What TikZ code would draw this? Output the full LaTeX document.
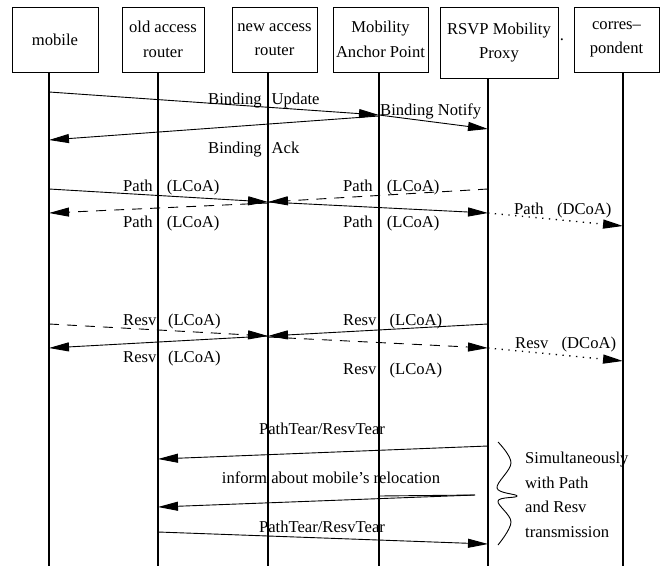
\documentclass[tikz,border=0pt]{standalone}
\usepackage{fontspec}
\setmainfont{Liberation Serif}
\usetikzlibrary{arrows.meta}
\begin{document}
\begin{tikzpicture}[x=1pt,y=-1pt,
  every node/.style={font=\fontsize{16.6}{24.5}\selectfont},
  box/.style={draw, line width=1pt, inner sep=0pt, align=center, minimum height=65pt},
  life/.style={line width=1.1pt},
  msg/.style={line width=0.9pt, -{Triangle[length=20pt,width=9pt]}},
  dsh/.style={dash pattern=on 10pt off 8pt},
  dtt/.style={line width=1.3pt, dash pattern=on 1.3pt off 5.5pt},
  lbl/.style={inner sep=0pt, text height=11pt, text depth=0pt, anchor=west}]
\useasboundingbox (0,0) rectangle (666,570);

% boxes
\node[box, minimum width=86pt] (mob) at (55,39.5) {mobile};
\node[box, minimum width=82pt] (old) at (163,39.5) {old access\\router};
\node[box, minimum width=85pt] (new) at (274.5,39.5) {new access\\router};
\node[box, minimum width=95pt] (map) at (380.5,39.5) {Mobility\\Anchor Point};
\node[box, minimum width=118pt, minimum height=71pt] (rsvp) at (499,42.5) {RSVP Mobility\\Proxy};
\node[box, minimum width=85pt] (cor) at (616.5,39.5) {corres--\\pondent};
\node[inner sep=0pt] (dot) at (562,40) {.};

% lifelines
\coordinate (t1) at (49,72);  \coordinate (b1) at (49,566);
\coordinate (t2) at (158,72); \coordinate (b2) at (158,566);
\coordinate (t3) at (268,72); \coordinate (b3) at (268,566);
\coordinate (t4) at (379,72); \coordinate (b4) at (379,566);
\coordinate (t5) at (488,78); \coordinate (b5) at (488,566);
\coordinate (t6) at (623,72); \coordinate (b6) at (623,566);
\foreach \i in {1,...,6} {\draw[life] (t\i) -- (b\i);}

% binding
\coordinate (bu0) at (49,92);
\coordinate (bu1) at (379,115);
\coordinate (bn1) at (488,129);
\coordinate (ba0) at (379,116);
\coordinate (ba1) at (49,140);
\draw[msg] (bu0) -- (bu1);
\draw[msg] (bu1) -- (bn1);
\draw[msg] (ba0) -- (ba1);
\node[lbl] (lbu) at (208,99) {Binding\hspace{0.6em}Update};
\node[lbl] (lbn) at (380,110) {Binding Notify};
\node[lbl] (lba) at (208,148) {Binding\hspace{0.6em}Ack};

% path
\coordinate (p1a) at (49,189);  \coordinate (p1b) at (268,202);
\coordinate (p2a) at (488,189);
\coordinate (p3a) at (268,203); \coordinate (p3b) at (49,213);
\coordinate (p4b) at (488,213);
\coordinate (p5b) at (623,226);
\draw[msg] (p1a) -- (p1b);
\draw[msg, dsh] (p2a) -- (p1b);
\draw[msg, dsh] (p3a) -- (p3b);
\draw[msg] (p1b) -- (p4b);
\draw[msg, dtt] (p4b) -- (p5b);
\node[lbl] (lp1) at (123,186) {Path\hspace{0.85em}(LCoA)};
\node[lbl] (lp2) at (343,186) {Path\hspace{0.85em}(LCoA)};
\node[lbl] (lp3) at (123,222) {Path\hspace{0.85em}(LCoA)};
\node[lbl] (lp4) at (343,222) {Path\hspace{0.85em}(LCoA)};
\node[lbl] (lp5) at (514,209) {Path\hspace{0.8em}(DCoA)};

% resv
\coordinate (r1a) at (49,324);  \coordinate (r1b) at (268,336);
\coordinate (r2a) at (488,324);
\coordinate (r3b) at (49,348);
\coordinate (r4a) at (268,337); \coordinate (r4b) at (488,348);
\coordinate (r5b) at (623,361);
\draw[msg, dsh] (r1a) -- (r1b);
\draw[msg] (r2a) -- (r1b);
\draw[msg] (r1b) -- (r3b);
\draw[msg, dsh] (r4a) -- (r4b);
\draw[msg, dtt] (r4b) -- (r5b);
\node[lbl] (lr1) at (123,320) {Resv\hspace{0.7em}(LCoA)};
\node[lbl] (lr2) at (343,320) {Resv\hspace{0.8em}(LCoA)};
\node[lbl] (lr3) at (123,357) {Resv\hspace{0.7em}(LCoA)};
\node[lbl] (lr4) at (343,369) {Resv\hspace{0.8em}(LCoA)};
\node[lbl] (lr5) at (515,343) {Resv\hspace{0.8em}(DCoA)};

% teardown
\coordinate (ta) at (488,446); \coordinate (tb) at (158,459);
\coordinate (ia) at (475,495); \coordinate (ib) at (158,507);
\coordinate (im) at (379,496);
\coordinate (ua) at (158,532); \coordinate (ub) at (488,544);
\draw[msg] (ta) -- (tb);
\draw[line width=0.9pt] (im) -- (ia);
\draw[msg] (ia) -- (ib);
\draw[msg] (ua) -- (ub);
\node[inner sep=0pt, text height=11pt, text depth=0pt] (lt1) at (322,429) {PathTear/ResvTear};
\node[inner sep=0pt, text height=11pt, text depth=0pt] (li) at (331,478) {inform about mobile's relocation};
\node[inner sep=0pt, text height=11pt, text depth=0pt] (lt2) at (322,527) {PathTear/ResvTear};

% brace
\draw[line width=0.9pt] plot[smooth, tension=0.6] coordinates
  {(498,442) (511,463) (497,488) (517,496) (498,501) (511,522) (498,545)};
\node[inner sep=0pt, anchor=north west, align=left] (sim) at (525,452)
  {Simultaneously\\with Path\\and Resv\\transmission};
\end{tikzpicture}
\end{document}
